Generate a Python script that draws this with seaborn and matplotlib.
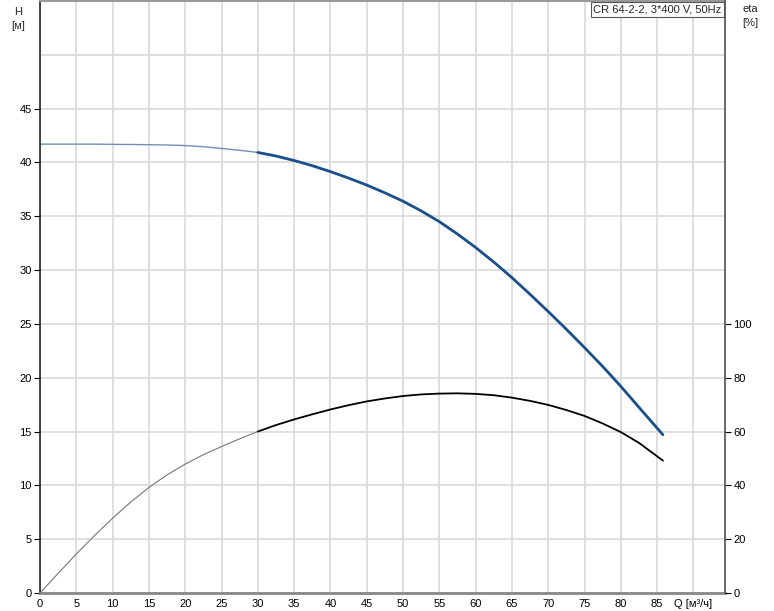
import seaborn as sns
import matplotlib.pyplot as plt
import pandas as pd

# Datos (Q en m³/h)
q_vals = [0, 2.5, 5, 7.5, 10, 12.5, 15, 17.5, 20, 22.5, 25, 27.5, 30, 32.5, 35, 37.5,
          40, 42.5, 45, 47.5, 50, 52.5, 55, 57.5, 60, 62.5, 65, 67.5, 70, 72.5, 75,
          77.5, 80, 82.5, 85.8]
h_vals = [41.7, 41.7, 41.7, 41.7, 41.68, 41.67, 41.65, 41.62, 41.57, 41.46, 41.3,
          41.13, 40.93, 40.6, 40.18, 39.7, 39.15, 38.55, 37.9, 37.18, 36.4, 35.5,
          34.5, 33.35, 32.1, 30.75, 29.3, 27.75, 26.15, 24.5, 22.8, 21.05, 19.2,
          17.25, 14.7]
eta_vals = [0, 7.3, 14.5, 21.3, 27.8, 33.8, 39.2, 43.9, 47.9, 51.4, 54.4, 57.3, 60.0,
            62.4, 64.5, 66.4, 68.2, 69.8, 71.2, 72.3, 73.2, 73.8, 74.1, 74.2, 74.0,
            73.5, 72.6, 71.4, 69.9, 68.0, 65.8, 63.0, 59.8, 55.8, 49.2]

x_ticks = [0, 5, 10, 15, 20, 25, 30, 35, 40, 45, 50, 55, 60, 65, 70, 75, 80, 85]
h_ticks = [0, 5, 10, 15, 20, 25, 30, 35, 40, 45]
eta_ticks = [0, 20, 40, 60, 80, 100]

df = pd.DataFrame({"Q": q_vals, "H": h_vals, "eta": eta_vals})
df_ini = df[df["Q"] <= 30]
df_fin = df[df["Q"] >= 30]

sns.set_style("whitegrid")
plt.rcParams["font.family"] = ["Liberation Sans", "DejaVu Sans"]
plt.rcParams["lines.solid_joinstyle"] = "round"

fig = plt.figure(figsize=(7.74, 6.11), dpi=100)
ax = fig.add_axes([40 / 774, 18 / 611, 685 / 774, 592 / 611])
ax2 = ax.twinx()

blue = "#1a4f8b"
sns.lineplot(data=df_ini, x="Q", y="H", ax=ax, color="#6f8fb5", lw=1.0)
sns.lineplot(data=df_fin, x="Q", y="H", ax=ax, color=blue, lw=2.0)
sns.lineplot(data=df_ini, x="Q", y="eta", ax=ax2, color="#777777", lw=0.8)
sns.lineplot(data=df_fin, x="Q", y="eta", ax=ax2, color="black", lw=1.3)

ax.set_xlim(0, 94.35)
ax.set_ylim(0, 55)
ax2.set_ylim(0, 220)

ax.set_xticks(list(range(0, 95, 5)))
ax.set_xticklabels([str(t) for t in x_ticks] + ["Q [м³/ч]"])
ax.set_yticks(h_ticks)
ax.set_yticks([50, 55], minor=True)
ax2.set_yticks(eta_ticks)
ax2.grid(False)

ax.grid(True, which="both", color="#d9d9d9", lw=1.2)
ax.set_axisbelow(True)
ax.set_xlabel("")
ax.set_ylabel("")
ax2.set_ylabel("")

for a in (ax, ax2):
    a.tick_params(labelsize=8, length=4, width=0.8, colors="black", pad=2)
ax.tick_params(axis="x", length=0, pad=4)
ax.tick_params(axis="y", which="minor", length=0)

ax.spines["left"].set_color("#222222")
ax.spines["left"].set_linewidth(1.2)
ax.spines["bottom"].set_color("#888888")
ax.spines["bottom"].set_linewidth(2)
ax.spines["top"].set_color("#999999")
ax.spines["top"].set_linewidth(1.5)
ax2.spines["right"].set_color("#555555")
ax2.spines["right"].set_linewidth(1.2)
for s in ("left", "top", "bottom"):
    ax2.spines[s].set_visible(False)

fig.text(18 / 774, 1 - 12 / 611, "H", ha="center", va="center", fontsize=8)
fig.text(18 / 774, 1 - 26 / 611, "[м]", ha="center", va="center", fontsize=8)
fig.text(750 / 774, 1 - 9 / 611, "eta", ha="center", va="center", fontsize=8)
fig.text(750 / 774, 1 - 23 / 611, "[%]", ha="center", va="center", fontsize=8)

ax.text(0.995, 0.994, "CR 64-2-2, 3*400 V, 50Hz", transform=ax.transAxes,
        ha="right", va="top", fontsize=8,
        bbox=dict(boxstyle="square,pad=0.25", fc="white", ec="#555555", lw=0.8))

fig.savefig("out.png", dpi=100)
